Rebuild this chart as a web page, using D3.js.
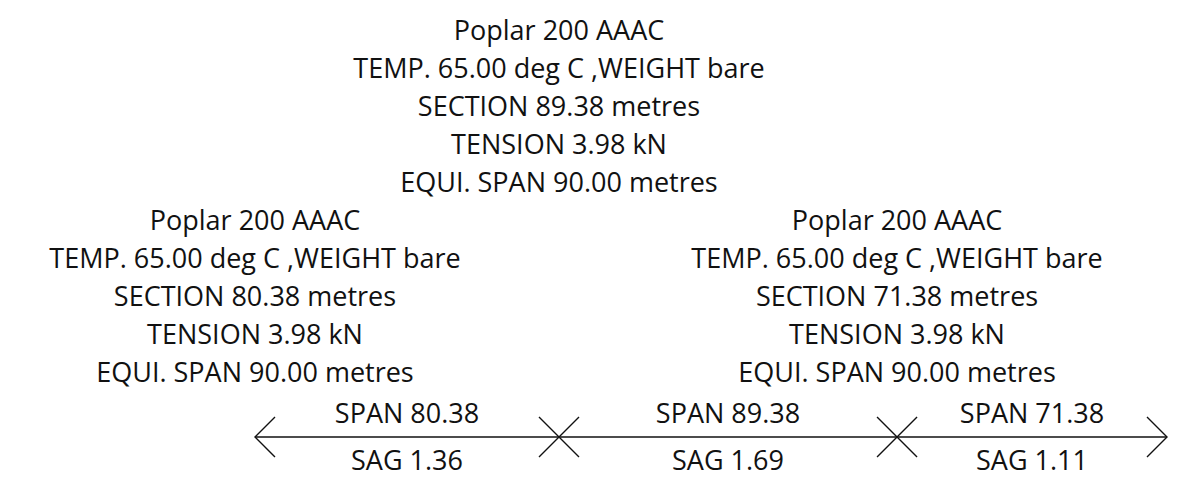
<!DOCTYPE html>
<html>
<head>
<meta charset="utf-8">
<script src="https://cdn.jsdelivr.net/npm/d3@7"></script>
<style>
  body { margin: 0; background: #fff; }
  svg text { font-family: "Open Sans", sans-serif; fill: #111; }
</style>
</head>
<body>
<svg id="chart"></svg>
<script>
const spans = [80.38, 89.38, 71.38];
const sags = [1.36, 1.69, 1.11];
const conductor = ["Poplar 200 AAAC", "Poplar 200 AAAC", "Poplar 200 AAAC"];
const temps = [65.00, 65.00, 65.00];
const weights = ["bare", "bare", "bare"];
const sections = [80.38, 89.38, 71.38];
const tensions = [3.98, 3.98, 3.98];
const equiSpans = [90.00, 90.00, 90.00];

const width = 1192, height = 483;
const fontSize = 27;
const lineGap = 38;
const lineY = 437;

const svg = d3.select("#chart")
  .attr("width", width)
  .attr("height", height);

// cumulative chainage of each support
const supports = [0];
spans.forEach(s => supports.push(supports[supports.length - 1] + s));

const x = d3.scaleLinear()
  .domain([0, d3.sum(spans)])
  .range([255, 1167]);

// main line
svg.append("line")
  .attr("x1", x(0)).attr("x2", x(supports[supports.length - 1]))
  .attr("y1", lineY).attr("y2", lineY)
  .attr("stroke", "#111")
  .attr("stroke-width", 1.4);

const arm = 20;
const marks = svg.append("g")
  .attr("fill", "none")
  .attr("stroke", "#111")
  .attr("stroke-width", 1.4);

// arrow heads at both ends
marks.append("path")
  .attr("d", `M${x(0) + arm},${lineY - arm}L${x(0)},${lineY}L${x(0) + arm},${lineY + arm}`);
const xEnd = x(supports[supports.length - 1]);
marks.append("path")
  .attr("d", `M${xEnd - arm},${lineY - arm}L${xEnd},${lineY}L${xEnd - arm},${lineY + arm}`);

// crosses at the inner supports
marks.selectAll("path.cross")
  .data(supports.slice(1, -1))
  .join("path")
    .attr("class", "cross")
    .attr("d", d => `M${x(d) - arm},${lineY - arm}L${x(d) + arm},${lineY + arm}M${x(d) - arm},${lineY + arm}L${x(d) + arm},${lineY - arm}`);

// span and sag labels
const spanG = svg.append("g")
  .attr("text-anchor", "middle")
  .attr("font-size", fontSize);

spanG.selectAll("text.span")
  .data(spans)
  .join("text")
    .attr("class", "span")
    .attr("x", (d, i) => x(supports[i] + d / 2))
    .attr("y", lineY - 14)
    .text(d => `SPAN ${d.toFixed(2)}`);

spanG.selectAll("text.sag")
  .data(sags)
  .join("text")
    .attr("class", "sag")
    .attr("y", lineY + 33)
    .attr("x", (d, i) => x(supports[i] + spans[i] / 2))
    .text(d => `SAG ${d.toFixed(2)}`);

// section info blocks, anchored at the start support of each section
const blocks = sections.map((s, i) => ({
  cx: x(supports[i]),
  top: i % 2 === 1 ? 40 : 40 + 5 * lineGap,
  lines: [
    conductor[i],
    `TEMP. ${temps[i].toFixed(2)} deg C ,WEIGHT ${weights[i]}`,
    `SECTION ${s.toFixed(2)} metres`,
    `TENSION ${tensions[i].toFixed(2)} kN`,
    `EQUI. SPAN ${equiSpans[i].toFixed(2)} metres`
  ]
}));

svg.append("g")
  .attr("text-anchor", "middle")
  .attr("font-size", fontSize)
  .selectAll("g")
  .data(blocks)
  .join("g")
    .selectAll("text")
    .data(b => b.lines.map((t, j) => ({ t, x: b.cx, y: b.top + j * lineGap })))
    .join("text")
      .attr("x", d => d.x)
      .attr("y", d => d.y)
      .text(d => d.t);
</script>
</body>
</html>
